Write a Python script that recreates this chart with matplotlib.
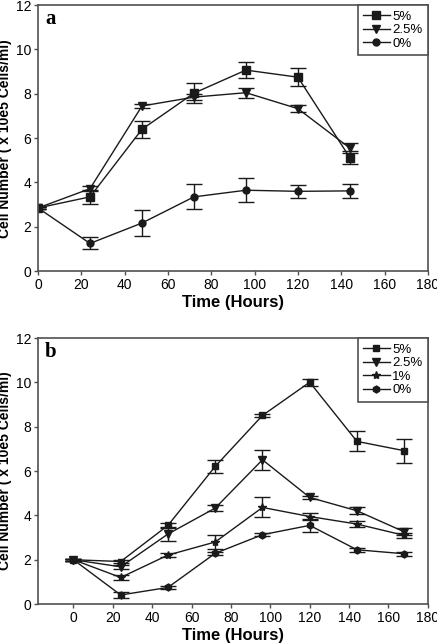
import numpy as np
import matplotlib.pyplot as plt
from matplotlib.lines import Line2D

# panel a
hours_a = [0, 24, 48, 72, 96, 120, 144]
a_5 = [2.85, 3.35, 6.4, 8.03, 9.07, 8.75, 5.12]
a_5_err = [0.05, 0.3, 0.38, 0.45, 0.37, 0.42, 0.28]
a_25 = [2.85, 3.72, 7.45, 7.85, 8.05, 7.33, 5.55]
a_25_err = [0.05, 0.12, 0.08, 0.15, 0.22, 0.15, 0.22]
a_0 = [2.85, 1.25, 2.17, 3.35, 3.65, 3.6, 3.62]
a_0_err = [0.05, 0.27, 0.57, 0.56, 0.53, 0.3, 0.33]

# panel b
hours_b = [0, 24, 48, 72, 96, 120, 144, 168]
b_5 = [2.0, 1.92, 3.55, 6.21, 8.51, 10.01, 7.34, 6.92]
b_5_err = [0.05, 0.08, 0.1, 0.28, 0.08, 0.15, 0.45, 0.55]
b_25 = [2.0, 1.68, 3.16, 4.33, 6.51, 4.81, 4.21, 3.26]
b_25_err = [0.05, 0.1, 0.3, 0.12, 0.45, 0.08, 0.15, 0.15]
b_1 = [2.0, 1.2, 2.21, 2.8, 4.36, 3.95, 3.61, 3.1]
b_1_err = [0.05, 0.12, 0.1, 0.3, 0.45, 0.15, 0.15, 0.1]
b_0 = [2.0, 0.41, 0.75, 2.29, 3.13, 3.55, 2.45, 2.27]
b_0_err = [0.05, 0.13, 0.06, 0.06, 0.06, 0.3, 0.08, 0.08]

col = '#1a1a1a'
ax_col = '#505050'


def style_axes(ax, xlim, letter, handles, labels):
    ax.set_xlim(xlim)
    ax.set_ylim(0, 12)
    ax.set_xticks(range(0, 181, 20))
    ax.set_yticks(range(0, 13, 2))
    for s in ax.spines.values():
        s.set_color(ax_col)
        s.set_linewidth(1.2)
    ax.tick_params(direction='out', length=3, width=1, color=ax_col,
                   labelsize=10, pad=2)
    for lab in ax.get_xticklabels() + ax.get_yticklabels():
        lab.set_fontfamily('Liberation Sans')
    ax.set_xlabel('Time (Hours)', fontsize=12, fontweight='bold',
                  fontfamily='Liberation Sans', labelpad=2)
    ax.set_ylabel('Cell Number ( x 10e5 Cells/ml)', fontsize=10,
                  fontweight='bold', fontfamily='Liberation Sans')
    ax.yaxis.set_label_coords(-0.068, 0.5)
    ax.text(0.018, 0.985, letter, transform=ax.transAxes, fontsize=15,
            fontweight='bold', fontfamily='Liberation Serif', va='top')
    leg = ax.legend(handles, labels, loc='upper right',
                    bbox_to_anchor=(1.0, 1.0), frameon=True, fancybox=False,
                    handlelength=2.0, handletextpad=0.2, borderpad=0.4,
                    labelspacing=0.1, borderaxespad=0.0, framealpha=1,
                    prop={'family': 'Liberation Sans', 'size': 9.5})
    leg.get_frame().set_edgecolor(ax_col)
    leg.get_frame().set_linewidth(1.2)


def handle(marker, ms):
    return Line2D([], [], color=col, lw=1, marker=marker, ms=ms)


fig = plt.figure(figsize=(4.37, 6.44), dpi=100)
kw = dict(color=col, lw=1, capsize=5.5, elinewidth=1, capthick=1)

ax1 = fig.add_axes([0.087, 0.579, 0.892, 0.413])
ax1.errorbar(hours_a, a_5, yerr=a_5_err, marker='s', ms=6, **kw)
ax1.errorbar(hours_a, a_25, yerr=a_25_err, marker='v', ms=6, **kw)
ax1.errorbar(hours_a, a_0, yerr=a_0_err, marker='o', ms=5, **kw)
style_axes(ax1, (0, 180), 'a',
           [handle('s', 6), handle('v', 6), handle('o', 5)],
           ['5%', '2.5%', '0%'])

ax2 = fig.add_axes([0.087, 0.062, 0.892, 0.413])
ax2.errorbar(hours_b, b_5, yerr=b_5_err, marker='s', ms=4.5, **kw)
ax2.errorbar(hours_b, b_25, yerr=b_25_err, marker='v', ms=5.5, **kw)
ax2.errorbar(hours_b, b_1, yerr=b_1_err, marker='*', ms=6, **kw)
ax2.errorbar(hours_b, b_0, yerr=b_0_err, marker='h', ms=5, **kw)
style_axes(ax2, (-18, 180), 'b',
           [handle('s', 4.5), handle('v', 5.5), handle('*', 6), handle('h', 5)],
           ['5%', '2.5%', '1%', '0%'])

fig.savefig('out.png', dpi=100)
